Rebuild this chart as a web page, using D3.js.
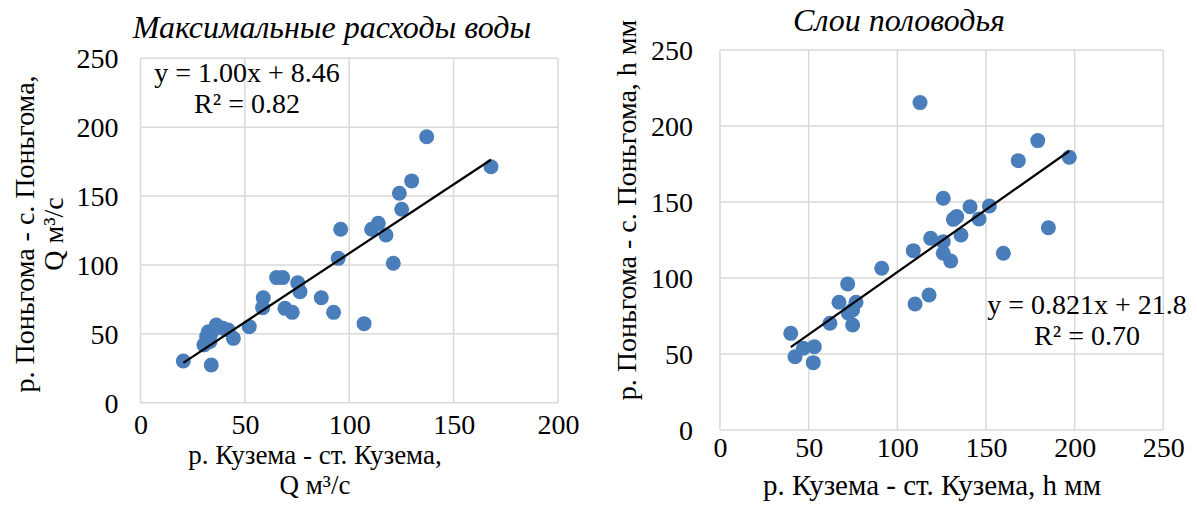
<!DOCTYPE html>
<html>
<head>
<meta charset="utf-8">
<script src="https://cdn.jsdelivr.net/npm/d3@7"></script>
<style>
  html, body { margin: 0; padding: 0; background: #fff; }
  svg { display: block; font-family: "Liberation Serif", "Times New Roman", serif; }
</style>
</head>
<body>
<svg id="chart" width="1197" height="515"></svg>
<script>
// Максимальные расходы воды: Кузема (x) vs Поньгома (y), м³/с
const flowKuzema = [20.5, 33.9, 30.4, 31.7, 33.3, 34.1, 32.5, 36.3, 39.5, 42, 44.5, 52.1, 58.5, 58.8,
  65.2, 68.1, 69.2, 72.7, 75.3, 76.4, 86.6, 92.5, 94.7, 95.9, 107.1, 110.7, 113.9, 117.6, 121.1,
  125.1, 124, 129.9, 137.1, 167.9];
const flowPongoma = [30.3, 27.4, 42, 48, 44.5, 51, 51.5, 56.4, 54, 52.8, 46.7, 55.2, 69, 76.2,
  90.8, 90.8, 68.5, 65.6, 87.1, 80.6, 76.2, 65.6, 104.8, 125.9, 57.4, 125.9, 130.2, 121.7, 101.2,
  140.4, 152, 161, 193.1, 171.3];
const flowTrend = { slope: 1.00, intercept: 8.46, r2: 0.82 };

// Слои половодья: Кузема (x) vs Поньгома (y), мм
const layerKuzema = [39.9, 42.3, 47, 53.2, 52.6, 62, 67.1, 72, 72.4, 76.7, 74.8, 74.8, 91.2, 109,
  110, 112.8, 117.9, 118.8, 125.9, 125.9, 125.9, 130.1, 131.6, 133.5, 135.9, 141, 146.1, 151.9,
  159.8, 168.2, 179.2, 185.2, 197];
const layerPongoma = [63.6, 48.2, 53.8, 54.8, 44.3, 70.2, 84, 96.1, 76.8, 84, 79, 69.1, 106.4, 118,
  82.9, 215.4, 88.8, 126.1, 152.5, 123.9, 116.3, 111.2, 138.6, 140.4, 128.3, 146.9, 138.8, 147.4,
  116.3, 177.2, 190.4, 133.1, 179.4];
const layerTrend = { slope: 0.821, intercept: 21.8, r2: 0.70 };

const flowXTicks = [0, 50, 100, 150, 200];
const layerXTicks = [0, 50, 100, 150, 200, 250];
const yTicks = [0, 50, 100, 150, 200, 250];

const svg = d3.select("#chart");
const DOT = "#4a7ebb";
const GRID = "#d9d9d9";
const FS = 28;       // tick labels, axis titles, equations
const FS_TITLE = 32; // chart titles

function drawPanel(o) {
  const x = d3.scaleLinear().domain(o.xDomain).range([o.left, o.right]);
  const y = d3.scaleLinear().domain([0, 250]).range([o.bottom, o.top]);
  const g = svg.append("g");

  // grid
  g.append("g").selectAll("line").data(o.xTicks).join("line")
    .attr("x1", d => x(d)).attr("x2", d => x(d))
    .attr("y1", o.top).attr("y2", o.bottom)
    .attr("stroke", GRID).attr("stroke-width", 1.5);
  g.append("g").selectAll("line").data(yTicks).join("line")
    .attr("x1", o.left).attr("x2", o.right)
    .attr("y1", d => y(d)).attr("y2", d => y(d))
    .attr("stroke", GRID).attr("stroke-width", 1.5);

  // axes (labels only)
  const ax = g.append("g").attr("transform", `translate(0,${o.bottom})`)
    .call(d3.axisBottom(x).tickValues(o.xTicks).tickSize(0).tickFormat(d3.format("d")));
  ax.select(".domain").remove();
  ax.selectAll("text").attr("y", o.xLabelOffset).attr("dy", 0)
    .attr("font-size", FS).attr("font-family", "Liberation Serif").attr("fill", "#000");

  const ay = g.append("g").attr("transform", `translate(${o.left},0)`)
    .call(d3.axisLeft(y).tickValues(yTicks).tickSize(0).tickFormat(d3.format("d")));
  ay.select(".domain").remove();
  ay.selectAll("text").attr("x", -o.yLabelOffset).attr("dy", "0.34em")
    .attr("font-size", FS).attr("font-family", "Liberation Serif").attr("fill", "#000");

  // points
  g.append("g").selectAll("circle").data(o.xs.map((v, i) => [v, o.ys[i]])).join("circle")
    .attr("cx", d => x(d[0])).attr("cy", d => y(d[1])).attr("r", 7.5)
    .attr("fill", DOT);

  // linear trend
  const x0 = d3.min(o.xs), x1 = d3.max(o.xs);
  g.append("line")
    .attr("x1", x(x0)).attr("y1", y(o.trend.slope * x0 + o.trend.intercept))
    .attr("x2", x(x1)).attr("y2", y(o.trend.slope * x1 + o.trend.intercept))
    .attr("stroke", "#000").attr("stroke-width", 2.2);

  // equation
  const eq = g.append("text").attr("font-size", FS).attr("text-anchor", "middle");
  eq.append("tspan").attr("x", o.eqX).attr("y", o.eqY)
    .text(`y = ${o.trend.slope.toFixed(o.slopeDigits)}x + ${o.trend.intercept}`);
  eq.append("tspan").attr("x", o.eqX).attr("y", o.eqY + 31)
    .text(`R² = ${o.trend.r2.toFixed(2)}`);

  // title
  g.append("text").attr("x", o.titleX).attr("y", o.titleY).attr("text-anchor", "middle")
    .attr("font-size", FS_TITLE).attr("font-style", "italic").text(o.title);

  // x axis title (one text element per line)
  o.xTitle.forEach((t, i) => g.append("text").attr("text-anchor", "middle")
    .attr("font-size", o.xTitleSize).attr("x", o.xTitleX).attr("y", o.xTitleY + i * 30).text(t));

  // y axis title
  const yt = g.append("text").attr("text-anchor", "middle").attr("font-size", FS)
    .attr("transform", `translate(0,${o.yTitleY}) rotate(-90)`);
  o.yTitle.forEach((t, i) => yt.append("tspan").attr("x", 0).attr("y", o.yTitleX[i]).text(t));
}

drawPanel({
  xs: flowKuzema, ys: flowPongoma, trend: flowTrend, slopeDigits: 2,
  xDomain: [0, 200], xTicks: flowXTicks,
  left: 140.5, right: 558, top: 58.3, bottom: 402.7,
  xLabelOffset: 31.5, yLabelOffset: 22,
  eqX: 247, eqY: 82,
  title: "Максимальные расходы воды", titleX: 332, titleY: 38,
  xTitle: ["р. Кузема - ст. Кузема,", "Q м³/с"], xTitleSize: 27, xTitleX: 315, xTitleY: 464,
  yTitle: ["р. Поньгома - с. Поньгома,", "Q м³/с"], yTitleX: [34, 63], yTitleY: 234
});

drawPanel({
  xs: layerKuzema, ys: layerPongoma, trend: layerTrend, slopeDigits: 3,
  xDomain: [0, 250], xTicks: layerXTicks,
  left: 720, right: 1163.3, top: 50, bottom: 430,
  xLabelOffset: 27, yLabelOffset: 27,
  eqX: 1087, eqY: 314,
  title: "Слои половодья", titleX: 899, titleY: 31,
  xTitle: ["р. Кузема - ст. Кузема, h мм"], xTitleSize: 29, xTitleX: 932, xTitleY: 495,
  yTitle: ["р. Поньгома - с. Поньгома, h мм"], yTitleX: [636], yTitleY: 210
});
</script>
</body>
</html>
